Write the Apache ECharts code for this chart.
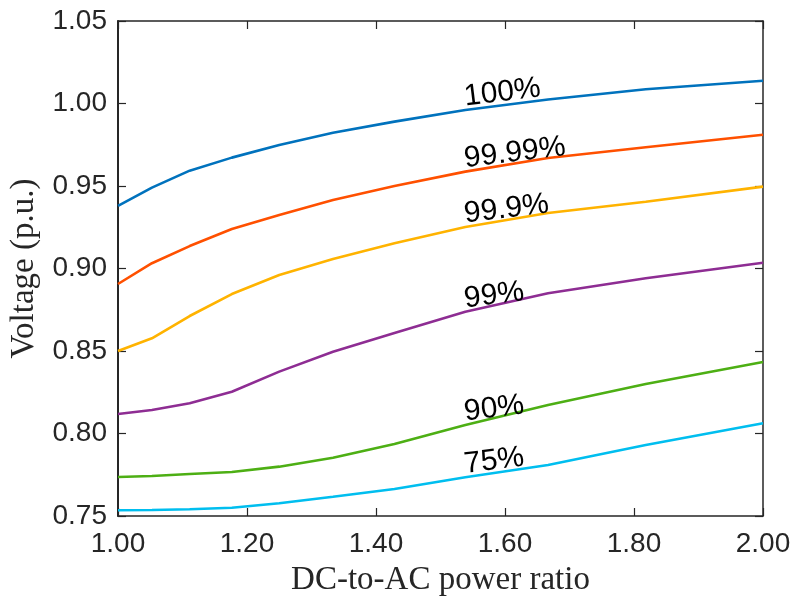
<!DOCTYPE html>
<html>
<head>
<meta charset="utf-8">
<script src="https://cdn.jsdelivr.net/npm/echarts@6/dist/echarts.min.js"></script>
<style>
  html, body { margin: 0; padding: 0; background: #fff; }
  #chart { width: 794px; height: 599px; }
</style>
</head>
<body>
<div id="chart"></div>
<script>
// DC-to-AC power ratio samples
const ratios = [1.0, 1.0526, 1.1111, 1.1765, 1.25, 1.3333, 1.4286, 1.5385, 1.6667, 1.8182, 2.0];

// Voltage (p.u.) for each percentile
const v100   = [0.9379, 0.9490, 0.9593, 0.9672, 0.9748, 0.9823, 0.9890, 0.9961, 1.0024, 1.0086, 1.0138];
const v9999  = [0.8906, 0.9032, 0.9136, 0.9239, 0.9324, 0.9415, 0.9500, 0.9587, 0.9670, 0.9735, 0.9811];
const v999   = [0.8500, 0.8577, 0.8712, 0.8845, 0.8961, 0.9058, 0.9153, 0.9252, 0.9336, 0.9405, 0.9496];
const v99    = [0.8118, 0.8142, 0.8183, 0.8253, 0.8375, 0.8496, 0.8609, 0.8738, 0.8850, 0.8941, 0.9035];
const v90    = [0.7736, 0.7742, 0.7755, 0.7767, 0.7799, 0.7853, 0.7936, 0.8052, 0.8173, 0.8300, 0.8433];
const v75    = [0.7535, 0.7536, 0.7541, 0.7550, 0.7577, 0.7617, 0.7664, 0.7735, 0.7809, 0.7930, 0.8062];

const curveNames = ['100%', '99.99%', '99.9%', '99%', '90%', '75%'];
const curveValues = [v100, v9999, v999, v99, v90, v75];
const curveColors = ['#0072BD', '#FF5000', '#FFB300', '#8E2D93', '#4DAF14', '#00BEEF'];

// index of the sample where each curve's text label sits
const labelIndex = 7;

const axisColor = '#262626';
const tickFont = { fontFamily: 'Liberation Sans, Arial, sans-serif', fontSize: 28, color: axisColor };

const series = curveNames.map((name, k) => ({
  name: name,
  type: 'line',
  data: ratios.map((x, i) => [x, curveValues[k][i]]),
  showSymbol: false,
  smooth: false,
  lineStyle: { color: curveColors[k], width: 2.6 },
  itemStyle: { color: curveColors[k] },
  silent: true,
  animation: false,
  markPoint: {
    symbol: 'circle',
    symbolSize: 1,
    itemStyle: { color: 'rgba(0,0,0,0)' },
    label: {
      show: true,
      position: [0, 0],
      align: 'left',
      verticalAlign: 'bottom',
      rotate: 7,
      offset: [1, 3],
      formatter: name,
      fontFamily: 'Liberation Sans, Arial, sans-serif',
      fontSize: 30,
      color: '#000'
    },
    data: [{ coord: [ratios[labelIndex], curveValues[k][labelIndex]] }]
  }
}));

const chart = echarts.init(document.getElementById('chart'), null, { renderer: 'canvas' });
chart.setOption({
  animation: false,
  backgroundColor: '#fff',
  grid: { left: 118, right: 31, top: 21, bottom: 83, containLabel: false, outerBoundsMode: 'none' },
  xAxis: [
    {
      type: 'value', min: 1, max: 2, interval: 0.2, position: 'bottom',
      name: 'DC-to-AC power ratio', nameLocation: 'middle', nameGap: 48,
      nameTextStyle: { fontFamily: 'Liberation Serif, Times New Roman, serif', fontSize: 33, color: axisColor },
      axisLine: { show: true, onZero: false, lineStyle: { color: axisColor, width: 1.5 } },
      axisTick: { show: true, inside: true, length: 8, lineStyle: { color: axisColor, width: 1.2 } },
      axisLabel: Object.assign({ margin: 14, formatter: v => v.toFixed(2) }, tickFont),
      splitLine: { show: false }
    },
    {
      type: 'value', min: 1, max: 2, interval: 0.2, position: 'top',
      axisLine: { show: true, onZero: false, lineStyle: { color: axisColor, width: 1.5 } },
      axisTick: { show: true, inside: true, length: 8, lineStyle: { color: axisColor, width: 1.2 } },
      axisLabel: { show: false },
      splitLine: { show: false }
    }
  ],
  yAxis: [
    {
      type: 'value', min: 0.75, max: 1.05, interval: 0.05, position: 'left',
      name: 'Voltage (p.u.)', nameLocation: 'middle', nameGap: 77,
      nameTextStyle: { fontFamily: 'Liberation Serif, Times New Roman, serif', fontSize: 33, color: axisColor },
      axisLine: { show: true, onZero: false, lineStyle: { color: axisColor, width: 2 } },
      axisTick: { show: true, inside: true, length: 8, lineStyle: { color: axisColor, width: 1.2 } },
      axisLabel: Object.assign({ margin: 11, formatter: v => v.toFixed(2) }, tickFont),
      splitLine: { show: false }
    },
    {
      type: 'value', min: 0.75, max: 1.05, interval: 0.05, position: 'right',
      axisLine: { show: true, onZero: false, lineStyle: { color: axisColor, width: 1.5 } },
      axisTick: { show: true, inside: true, length: 8, lineStyle: { color: axisColor, width: 1.2 } },
      axisLabel: { show: false },
      splitLine: { show: false }
    }
  ],
  series: series
});
</script>
</body>
</html>
